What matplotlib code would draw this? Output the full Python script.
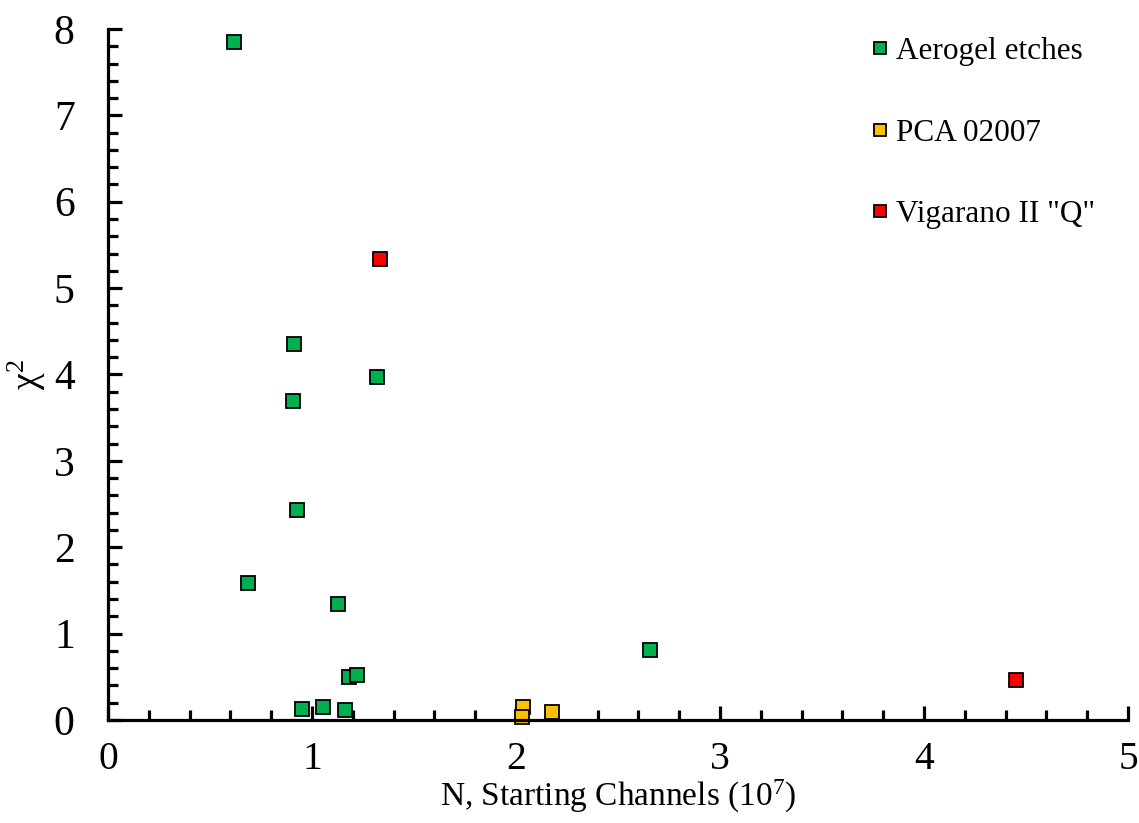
import matplotlib.pyplot as plt
from matplotlib.ticker import MultipleLocator

plt.rcParams['font.family'] = ['Liberation Serif', 'DejaVu Serif']
plt.rcParams['mathtext.fontset'] = 'custom'
plt.rcParams['mathtext.rm'] = 'Liberation Serif'
plt.rcParams['mathtext.default'] = 'regular'

# starting channels (x 10^7) and chi-squared per sample
aerogel_n = [0.618, 0.686, 0.912, 0.907, 0.926, 1.319, 1.127, 0.951, 1.054, 1.162, 1.181, 1.221, 2.657]
aerogel_chi2 = [7.85, 1.585, 4.35, 3.69, 2.43, 3.97, 1.34, 0.127, 0.15, 0.116, 0.50, 0.52, 0.81]

pca_n = [2.034, 2.029, 2.176]
pca_chi2 = [0.15, 0.035, 0.09]

vig_n = [1.333, 4.451]
vig_chi2 = [5.34, 0.46]

series = [
    (aerogel_n, aerogel_chi2, '#00B050', 'Aerogel etches'),
    (pca_n, pca_chi2, '#FFC000', 'PCA 02007'),
    (vig_n, vig_chi2, '#FF0000', 'Vigarano II "Q"'),
]

fig = plt.figure(figsize=(11.39, 8.23), dpi=100)
ax = fig.add_axes([0.0948, 0.1252, 0.8955, 0.8396])

for xs, ys, col, lab in series:
    ax.plot(xs, ys, 's', color=col, markeredgecolor='black', markeredgewidth=1.3,
            markersize=9.5, label=lab, clip_on=False)

ax.set_xlim(0, 5)
ax.set_ylim(0, 8)
ax.xaxis.set_major_locator(MultipleLocator(1))
ax.xaxis.set_minor_locator(MultipleLocator(0.2))
ax.yaxis.set_major_locator(MultipleLocator(1))
ax.yaxis.set_minor_locator(MultipleLocator(0.2))

for s in ['top', 'right']:
    ax.spines[s].set_visible(False)
for s in ['left', 'bottom']:
    ax.spines[s].set_linewidth(2.3)

ax.tick_params(which='major', direction='in', length=10, width=2.3, labelsize=30)
ax.tick_params(which='minor', direction='in', length=7, width=2.3)
ax.tick_params(axis='x', which='major', pad=15, labelsize=28.5)
ax.tick_params(axis='y', which='major', pad=24)

ax.set_xlabel(r'N, Starting Channels (10$^{7}$)', fontsize=24, labelpad=0)
ax.set_ylabel('χ$^{2}$', fontsize=27, labelpad=4)

leg = ax.legend(loc='upper left', fontsize=22.5, frameon=False, handlelength=0.45,
                handletextpad=0.3, labelspacing=1.68, markerscale=0.85,
                borderpad=0.0, borderaxespad=0.0, bbox_to_anchor=(0.75, 0.988))

fig.savefig('out.png', dpi=100)
